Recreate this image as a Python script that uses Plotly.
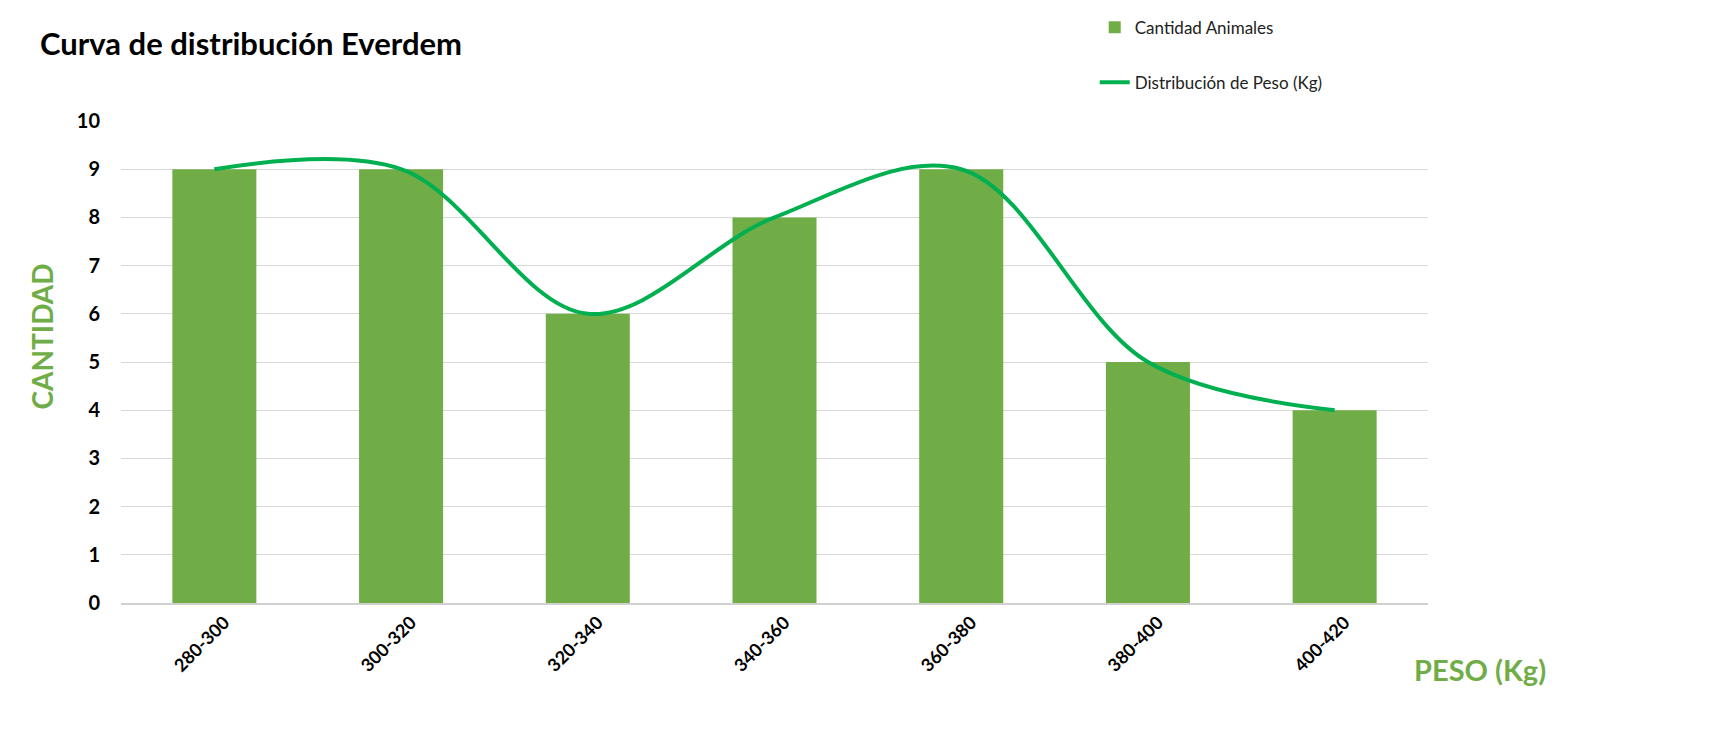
import plotly.graph_objects as go

categories = ["280-300", "300-320", "320-340", "340-360", "360-380", "380-400", "400-420"]
cantidad = [9, 9, 6, 8, 9, 5, 4]
distribucion = [9, 9, 6, 8, 9, 5, 4]
y_ticks = list(range(0, 11))

BAR_COLOR = "#70AD47"
LINE_COLOR = "#00B050"
FONT = "Lato"

W, H = 1718, 736

fig = go.Figure()
fig.add_trace(go.Bar(
    x=categories, y=cantidad, name="Cantidad Animales",
    marker=dict(color=BAR_COLOR, line=dict(width=0)),
    legendgroup="a",
))
fig.add_trace(go.Scatter(
    x=categories, y=distribucion, name="Distribución de Peso (Kg)",
    mode="lines", line=dict(color=LINE_COLOR, width=4, shape="spline", smoothing=1.0),
    legendgroup="b",
))

fig.update_layout(
    width=W, height=H,
    margin=dict(l=113, r=298, t=113, b=141, autoexpand=False),
    paper_bgcolor="white", plot_bgcolor="white",
    font=dict(family=FONT, color="black"),
    bargap=0.55,
    title=dict(text="<b>Curva de distribución Everdem</b>", x=32/W, xanchor="left",
               y=1-36/H, yanchor="middle", xref="container", yref="container",
               font=dict(size=31, family=FONT, color="black")),
    legend=dict(x=0.745, y=1.231, xanchor="left", yanchor="top",
                font=dict(size=17, family=FONT, color="#222222"),
                tracegroupgap=30, bgcolor="rgba(0,0,0,0)"),
    xaxis=dict(tickangle=-45, tickfont=dict(size=18, family=FONT, color="black", weight="bold"),
               ticklabelshift=10,
               showline=True, linecolor="#D0D0D0", linewidth=2, showgrid=False, ticks=""),
    yaxis=dict(range=[0, 10], tickvals=y_ticks, showgrid=True, gridcolor="#D9D9D9", gridwidth=1,
               zeroline=False, showline=False, ticks="", ticklabelstandoff=20,
               tickfont=dict(size=20, family=FONT, color="black", weight="bold")),
    annotations=[
        dict(text="<b>CANTIDAD</b>", xref="paper", yref="paper", x=-0.0604, y=0.553,
             textangle=-90, showarrow=False, xanchor="center", yanchor="middle",
             font=dict(size=28, family=FONT, color=BAR_COLOR)),
        dict(text="<b>PESO (Kg)</b>", xref="paper", yref="paper", x=1.040, y=-0.139,
             showarrow=False, xanchor="center", yanchor="middle",
             font=dict(size=29, family=FONT, color=BAR_COLOR)),
    ],
)

fig.write_html("out.html")
